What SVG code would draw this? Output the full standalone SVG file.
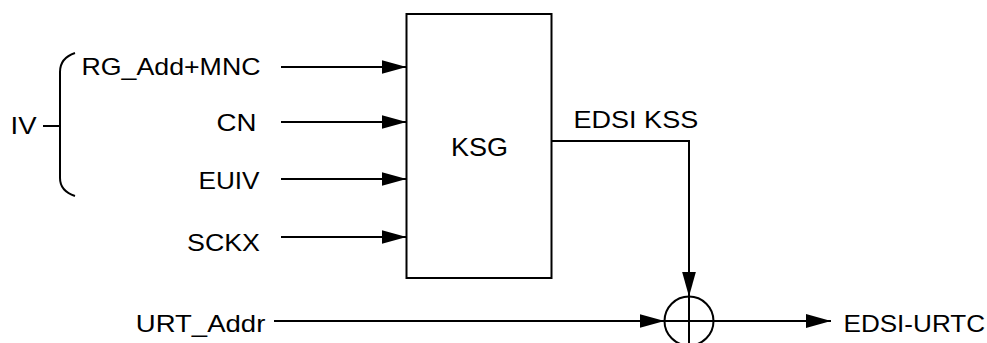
<svg xmlns="http://www.w3.org/2000/svg" width="987" height="343" viewBox="0 0 987 343">
<style>
.t{font-family:"Liberation Sans",Arial,sans-serif;font-size:24px;fill:#000}
.ln{stroke:#000;stroke-width:2;fill:none}
</style>
<defs>
<marker id="ah" markerUnits="userSpaceOnUse" markerWidth="26" markerHeight="14" refX="25" refY="7" orient="auto">
<path d="M0,0 L25,7 L0,14 z" fill="#000"/>
</marker>
</defs>
<rect width="987" height="343" fill="#fff"/>
<g id="iv">
<path class="ln" d="M75,53 Q60,58 60,72 L60,178 Q60,191 75,196"/>
<line class="ln" x1="43" y1="126" x2="60" y2="126"/>
<text class="t" x="10.5" y="134.3" textLength="26" lengthAdjust="spacingAndGlyphs">IV</text>
</g>
<g id="lbl-rg"><text class="t" x="81.5" y="74.5" textLength="179" lengthAdjust="spacingAndGlyphs">RG_Add+MNC</text></g>
<g id="lbl-cn"><text class="t" x="216.5" y="130.5" textLength="40" lengthAdjust="spacingAndGlyphs">CN</text></g>
<g id="lbl-euiv"><text class="t" x="198.5" y="188.5" textLength="61" lengthAdjust="spacingAndGlyphs">EUIV</text></g>
<g id="lbl-sckx"><text class="t" x="187" y="251" textLength="73" lengthAdjust="spacingAndGlyphs">SCKX</text></g>
<g id="ksg">
<rect x="406.5" y="14" width="145" height="264" fill="none" stroke="#000" stroke-width="2"/>
<text class="t" x="451" y="156" style="font-size:25px" textLength="57" lengthAdjust="spacingAndGlyphs">KSG</text>
</g>
<g id="xor">
<circle cx="689" cy="321" r="24.5" fill="none" stroke="#000" stroke-width="2"/>
</g>
<g id="lbl-urt"><text class="t" x="135.8" y="331.7" textLength="129.5" lengthAdjust="spacingAndGlyphs">URT_Addr</text></g>
<g id="lbl-out"><text class="t" x="843.5" y="331.7" textLength="141.5" lengthAdjust="spacingAndGlyphs">EDSI-URTC</text></g>
<g id="connectors">
<line class="ln" x1="281" y1="67" x2="406.5" y2="67" marker-end="url(#ah)"/>
<line class="ln" x1="281" y1="122" x2="406.5" y2="122" marker-end="url(#ah)"/>
<line class="ln" x1="281" y1="179" x2="406.5" y2="179" marker-end="url(#ah)"/>
<line class="ln" x1="281" y1="237" x2="406.5" y2="237" marker-end="url(#ah)"/>
<polyline class="ln" points="551.5,141 689,141 689,296.5" marker-end="url(#ah)"/>
<text class="t" x="573.5" y="128.3" textLength="124.7" lengthAdjust="spacingAndGlyphs">EDSI KSS</text>
<line class="ln" x1="274" y1="321" x2="664.5" y2="321" marker-end="url(#ah)"/>
<line class="ln" x1="664.5" y1="321" x2="713.5" y2="321"/>
<line class="ln" x1="689" y1="296.5" x2="689" y2="345"/>
<line class="ln" x1="713.5" y1="321" x2="831" y2="321" marker-end="url(#ah)"/>
</g>
</svg>
